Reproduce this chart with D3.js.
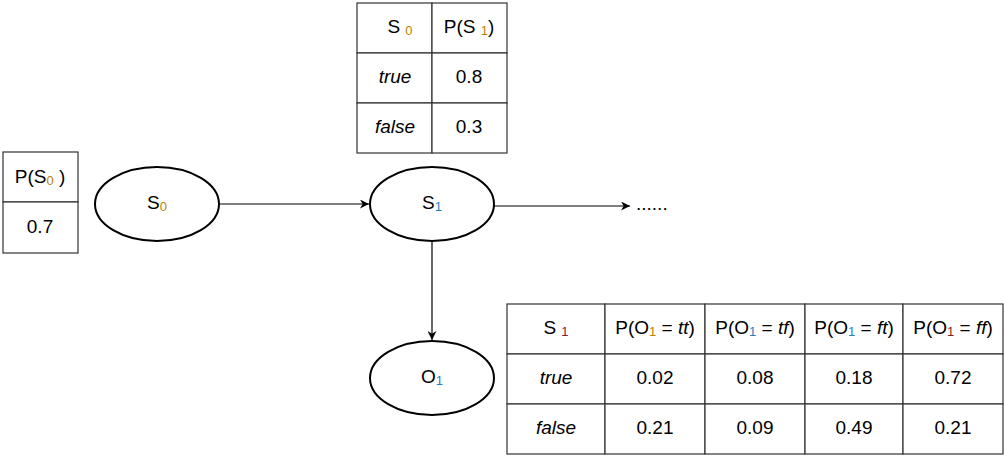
<!DOCTYPE html><html><head><meta charset="utf-8"><script src="https://cdn.jsdelivr.net/npm/d3@7"></script>
<style>body{margin:0;background:#fff}text{font-family:"Liberation Sans",Arial,sans-serif;font-size:19px;fill:#000}</style></head><body>
<svg id="c" width="1005" height="458"></svg>
<script>
const priorS0 = ["0.7"];
const transRows = ["true","false"];
const transVals = ["0.8","0.3"];
const obsCols = ["tt","tf","ft","ff"];
const obsColColors = ["#c08000","#1f7fc0","#1f7fc0","#8b1a1a"];
const obsTrue = ["0.02","0.08","0.18","0.72"];
const obsFalse = ["0.21","0.09","0.49","0.21"];

const svg = d3.select("#c");
svg.append("defs").append("marker").attr("id","ar").attr("viewBox","0 0 10 10").attr("refX",10).attr("refY",5)
 .attr("markerWidth",9).attr("markerHeight",9).attr("markerUnits","userSpaceOnUse").attr("orient","auto")
 .append("path").attr("d","M0,0L10,5L0,10L3,5Z").attr("fill","#000");

function cell(x,y,w,h){svg.append("rect").attr("x",x).attr("y",y).attr("width",w).attr("height",h).attr("fill","#fff").attr("stroke","#333").attr("stroke-width",1.2);}
// parts: array of [text, opts]
function rich(cx,cy,parts,anchor="middle"){
  const t=svg.append("text").attr("x",cx).attr("y",cy).attr("text-anchor",anchor).attr("dominant-baseline","middle");
  parts.forEach(p=>{const s=t.append("tspan").text(p[0]);
    if(p[1]&&p[1].sub){s.style("font-size","13px").attr("dy",4).attr("fill",p[1].color||"#000");}
    else if(p[1]&&p[1].after){s.attr("dy",-4);}
    if(p[1]&&p[1].italic)s.style("font-style","italic");});
  return t;
}
// P(S0) table
cell(3,152,75,50);cell(3,202,75,51);
rich(40,178,[["P(S"],["0",{sub:1,color:"#c08000"}],[" )",{after:1}]]);
rich(40,228,[[priorS0[0]]]);
// top table
const tx=[357,432,507], ty=[3,53,103,153];
for(let r=0;r<3;r++)for(let c=0;c<2;c++)cell(tx[c],ty[r],tx[c+1]-tx[c],50);
rich(400,28,[["S "],["0",{sub:1,color:"#c08000"}]]);
rich(469,28,[["P(S "],["1",{sub:1,color:"#c08000"}],[")",{after:1}]]);
transRows.forEach((r,i)=>{rich(395,78+50*i,[[r,{italic:1}]]);rich(469,78+50*i,[[transVals[i]]]);});
// nodes
function node(cx,cy,lbl,sub,col){svg.append("ellipse").attr("cx",cx).attr("cy",cy).attr("rx",62).attr("ry",37).attr("fill","#fff").attr("stroke","#000").attr("stroke-width",2);
 rich(cx,cy,[[lbl],[sub,{sub:1,color:col}]]);}
// arrows
function arrow(x1,y1,x2,y2){svg.append("line").attr("x1",x1).attr("y1",y1).attr("x2",x2).attr("y2",y2).attr("stroke","#000").attr("stroke-width",1.2).attr("marker-end","url(#ar)");}
arrow(219,204,369,204);arrow(494,206,630,206);arrow(432,241,432,340);
node(157,204,"S","0","#c08000");node(432,204,"S","1","#1f7fc0");node(432,378,"O","1","#1f7fc0");
svg.append("text").attr("x",636).attr("y",210).text("......");
// bottom table
const bx=[507,605,705,805,903,1003], by=[304,354,404,454];
for(let r=0;r<3;r++)for(let c=0;c<5;c++)cell(bx[c],by[r],bx[c+1]-bx[c],50);
rich(556,329,[["S "],["1",{sub:1,color:"#8b1a3a"}]]);
obsCols.forEach((o,i)=>{const cx=(bx[i+1]+bx[i+2])/2;
  rich(cx,329,[["P(O"],["1",{sub:1,color:obsColColors[i]}],[" = ",{after:1}],[o,{italic:1}],[")"]]);
  rich(cx,379,[[obsTrue[i]]]);rich(cx,429,[[obsFalse[i]]]);});
rich(556,379,[["true",{italic:1}]]);rich(556,429,[["false",{italic:1}]]);
</script></body></html>
